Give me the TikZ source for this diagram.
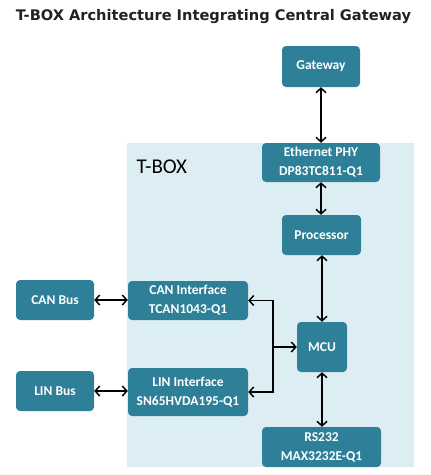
\documentclass[tikz,border=0pt]{standalone}
\usepackage{fontspec}
\setmainfont{Carlito}
\newfontfamily\titlefont{DejaVu Sans}
\usepackage{xcolor}
\usetikzlibrary{shapes,arrows.meta,positioning,calc}
\definecolor{tealbox}{RGB}{46,128,152}
\definecolor{tboxbg}{RGB}{220,238,244}
\definecolor{titlegray}{RGB}{34,34,34}

\begin{document}
\begin{tikzpicture}[x=1pt, y=-1pt,
    block/.style={rectangle, fill=tealbox, text=white, align=center, rounded corners=4pt, inner sep=0pt, font=\fontsize{13.5}{19}\selectfont\bfseries},
    link/.style={{Straight Barb[length=4.5pt,width=10pt]}-{Straight Barb[length=4.5pt,width=10pt]}, line width=1.5pt},
    onelink/.style={-{Straight Barb[length=4.5pt,width=10pt]}, line width=1.5pt}]
    \useasboundingbox (0,0) rectangle (431,475);
    % title and T-BOX area
    \node[font=\titlefont\fontsize{14.6}{16}\selectfont\bfseries, text=titlegray] (title) at (213.5,17) {T-BOX Architecture Integrating Central Gateway};
    \fill[tboxbg] (127,143) rectangle (414,467);
    \node[anchor=west, font=\fontsize{21}{24}\selectfont] (tboxlabel) at (133,167) {T-BOX};
    % blocks
    \node[block, minimum width=78pt, minimum height=41pt] (gateway) at (321,66.5) {Gateway};
    \node[block, minimum width=118pt, minimum height=39pt] (ethphy) at (321,162.5) {Ethernet PHY\\DP83TC811-Q1};
    \node[block, minimum width=79pt, minimum height=40pt] (processor) at (321.5,235) {Processor};
    \node[block, minimum width=50pt, minimum height=50pt] (mcu) at (322,347) {MCU};
    \node[block, minimum width=119pt, minimum height=40pt] (rs232) at (321.5,447) {RS232\\MAX3232E-Q1};
    \node[block, minimum width=120pt, minimum height=39pt] (canif) at (188,300.5) {CAN Interface\\TCAN1043-Q1};
    \node[block, minimum width=120pt, minimum height=48pt] (linif) at (188,392) {LIN Interface\\SN65HVDA195-Q1};
    \node[block, minimum width=78pt, minimum height=40pt] (canbus) at (55,300) {CAN Bus};
    \node[block, minimum width=78pt, minimum height=40pt] (linbus) at (55,391) {LIN Bus};
    % connectors
    \draw[link] (gateway.south) -- (ethphy.north);
    \draw[link] (ethphy.south) -- (processor.north -| ethphy.south);
    \draw[link] (processor.south -| mcu.north) -- (mcu.north);
    \draw[link] (mcu.south) -- (rs232.north -| mcu.south);
    \draw[link] (canbus.east) -- (canif.west |- canbus.east);
    \draw[link] (linbus.east) -- (linif.west |- linbus.east);
    \coordinate (junction) at (273,347);
    \draw[onelink] (junction) -- (mcu.west);
    \draw[onelink] (junction) |- (canif.east);
    \draw[onelink] (junction) |- (linif.east);
\end{tikzpicture}
\end{document}
